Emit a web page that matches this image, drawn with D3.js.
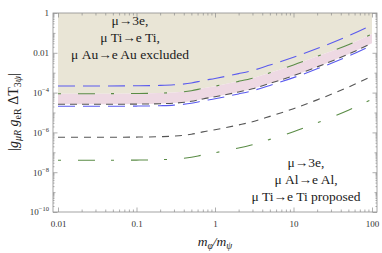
<!DOCTYPE html>
<html>
<head>
<meta charset="utf-8">
<script src="https://cdn.jsdelivr.net/npm/d3@7"></script>
<style>
  body { margin: 0; background: #fff; }
  svg text { font-family: "Liberation Serif", "DejaVu Serif", serif; }
</style>
</head>
<body>
<div id="chart"></div>
<script>
// sample points along m_phi/m_psi
const massRatio = [0.01, 0.03, 0.1, 0.2, 0.3, 0.5, 0.7, 1, 2, 3, 5, 10, 20, 50, 100];

// current limits (upper group)
const blueUpper  = [2.15e-4, 2.15e-4, 2.20e-4, 2.30e-4, 2.47e-4, 3.03e-4, 4.00e-4, 5.15e-4, 8.95e-4, 1.29e-3, 2.41e-3, 5.92e-3, 1.63e-2, 7.11e-2, 0.252];
const greenUpper = [8.81e-5, 8.81e-5, 9.02e-5, 9.44e-5, 1.01e-4, 1.245e-4, 1.64e-4, 2.11e-4, 3.67e-4, 5.31e-4, 9.89e-4, 2.43e-3, 6.68e-3, 2.54e-2, 8.81e-2];
const blackUpper = [2.58e-5, 2.58e-5, 2.64e-5, 2.77e-5, 2.96e-5, 3.65e-5, 4.81e-5, 6.19e-5, 1.08e-4, 1.56e-4, 2.90e-4, 7.11e-4, 1.96e-3, 8.55e-3, 3.03e-2];
const blueLower  = [2.05e-5, 2.05e-5, 2.10e-5, 2.20e-5, 2.35e-5, 2.90e-5, 3.82e-5, 4.92e-5, 8.58e-5, 1.24e-4, 2.30e-4, 5.65e-4, 1.56e-3, 6.79e-3, 2.41e-2];

// proposed sensitivities (lower group)
const blackProposed = [5.68e-7, 5.68e-7, 5.81e-7, 6.08e-7, 6.52e-7, 8.02e-7, 1.06e-6, 1.36e-6, 2.37e-6, 3.42e-6, 6.37e-6, 1.56e-5, 4.31e-5, 1.88e-4, 6.67e-4];
const greenProposed = [3.96e-8, 3.96e-8, 4.06e-8, 4.25e-8, 4.55e-8, 5.60e-8, 7.38e-8, 9.51e-8, 1.65e-7, 2.39e-7, 4.45e-7, 1.09e-6, 3.01e-6, 1.31e-5, 4.66e-5];

const xTickValues = [0.01, 0.1, 1, 10, 100];
const xTickLabels = ["0.01", "0.1", "1", "10", "100"];
const yTickValues = [1, 1e-2, 1e-4, 1e-6, 1e-8, 1e-10];
const yTickBase = ["1", "0.01", "10", "10", "10", "10"];
const yTickExp  = ["", "", "\u22124", "\u22126", "\u22128", "\u221210"];

const width = 382, height = 253;
const frame = { left: 53, right: 377, top: 13, bottom: 212 };

const svg = d3.select("#chart")
  .append("svg")
  .attr("width", width)
  .attr("height", height);

const x = d3.scaleLog().domain([0.01, 100]).range([58, 372]);
const y = d3.scaleLog().domain([1e-10, 1]).range([frame.bottom, frame.top]);

const rows = massRatio.map((m, i) => ({
  m,
  bu: blueUpper[i], gu: greenUpper[i], ku: blackUpper[i], bl: blueLower[i],
  kp: blackProposed[i], gp: greenProposed[i]
}));

// excluded region (beige) and band (pink)
svg.append("path")
  .datum(rows)
  .attr("fill", "#e9e5d6")
  .attr("d", d3.area().curve(d3.curveMonotoneX)
    .x(d => x(d.m)).y0(d => y(d.gu)).y1(y(1)));

svg.append("path")
  .datum(rows)
  .attr("fill", "#eed9e3")
  .attr("d", d3.area().curve(d3.curveMonotoneX)
    .x(d => x(d.m)).y0(d => y(d.ku)).y1(d => y(d.gu)));

const curves = [
  { key: "bu", color: "#5a5aee", dash: "17,8" },
  { key: "gu", color: "#5a8c46", dash: "3,17,17,16" },
  { key: "ku", color: "#555555", dash: "7,5" },
  { key: "bl", color: "#5a5aee", dash: "17,8" },
  { key: "kp", color: "#555555", dash: "7,6" },
  { key: "gp", color: "#5a8c46", dash: "3,17,17,16" }
];

svg.append("g")
  .selectAll("path")
  .data(curves)
  .join("path")
  .attr("fill", "none")
  .attr("stroke", d => d.color)
  .attr("stroke-width", 1.1)
  .attr("stroke-dasharray", d => d.dash)
  .attr("d", c => d3.line().curve(d3.curveMonotoneX)
    .x(d => x(d.m)).y(d => y(d[c.key]))(rows));

// ticks
const frameColor = "#8c8c8c";
const xMinor = x.ticks().filter(v => !xTickValues.some(t => Math.abs(t - v) / t < 1e-6));
const yMinor = [];
for (let e = -10; e < 0; e++) {
  for (let k = 1; k < 10; k++) {
    const v = k * Math.pow(10, e);
    if (!yTickValues.some(t => Math.abs(t - v) / t < 1e-6)) yMinor.push(v);
  }
}
const yOdd = yMinor.filter(v => Math.abs(Math.log10(v) - Math.round(Math.log10(v))) < 1e-9);
const ySmall = yMinor.filter(v => !yOdd.includes(v));

function styleAxis(g) {
  g.select(".domain").remove();
  g.selectAll("line").attr("stroke", frameColor).attr("stroke-width", 0.7);
  g.selectAll("text")
    .attr("fill", "#333")
    .style("font-size", "9px")
    .style("font-family", "'Liberation Serif', serif");
}

function xAxes(gen, yPos) {
  svg.append("g").attr("transform", `translate(0,${yPos})`)
    .call(gen(x).tickValues(xMinor).tickSize(-2.5).tickFormat(""))
    .call(styleAxis);
}
function yAxes(gen, xPos) {
  svg.append("g").attr("transform", `translate(${xPos},0)`)
    .call(gen(y).tickValues(ySmall).tickSize(-1.5).tickFormat(""))
    .call(styleAxis);
  svg.append("g").attr("transform", `translate(${xPos},0)`)
    .call(gen(y).tickValues(yOdd).tickSize(-2.5).tickFormat(""))
    .call(styleAxis);
}

xAxes(d3.axisBottom, frame.bottom);
xAxes(d3.axisTop, frame.top);
yAxes(d3.axisLeft, frame.left);
yAxes(d3.axisRight, frame.right);

svg.append("g").attr("transform", `translate(0,${frame.bottom})`)
  .call(d3.axisBottom(x).tickValues(xTickValues).tickSize(-4.5).tickPadding(9)
    .tickFormat((d, i) => xTickLabels[i]))
  .call(styleAxis);
svg.append("g").attr("transform", `translate(0,${frame.top})`)
  .call(d3.axisTop(x).tickValues(xTickValues).tickSize(-4.5).tickFormat(""))
  .call(styleAxis);
svg.append("g").attr("transform", `translate(${frame.right},0)`)
  .call(d3.axisRight(y).tickValues(yTickValues).tickSize(-4.5).tickFormat(""))
  .call(styleAxis);

const yAxisG = svg.append("g").attr("transform", `translate(${frame.left},0)`)
  .call(d3.axisLeft(y).tickValues(yTickValues).tickSize(-4.5).tickFormat(""))
  .call(styleAxis);

yAxisG.selectAll(".tick")
  .append("text")
  .attr("x", -4)
  .attr("dy", "0.32em")
  .attr("text-anchor", "end")
  .attr("fill", "#333")
  .style("font-size", "9px")
  .each(function (d, i) {
    const t = d3.select(this);
    t.append("tspan").text(yTickBase[i]);
    if (yTickExp[i]) {
      t.append("tspan").attr("dy", -4).style("font-size", "6.5px").text(yTickExp[i]);
    }
  });

// frame
svg.append("rect")
  .attr("x", frame.left).attr("y", frame.top)
  .attr("width", frame.right - frame.left)
  .attr("height", frame.bottom - frame.top)
  .attr("fill", "none")
  .attr("stroke", frameColor)
  .attr("stroke-width", 0.8);

// axis labels
const yLab = svg.append("text")
  .attr("transform", "translate(18,112) rotate(-90)")
  .attr("text-anchor", "middle")
  .attr("fill", "#222")
  .style("font-size", "14px");
yLab.append("tspan").text("|");
yLab.append("tspan").style("font-style", "italic").text("g");
yLab.append("tspan").attr("dy", 3).style("font-size", "10px").style("font-style", "italic").text("\u03bcR");
yLab.append("tspan").attr("dy", -3).text(" ");
yLab.append("tspan").style("font-style", "italic").text("g");
yLab.append("tspan").attr("dy", 3).style("font-size", "10px").text("eR");
yLab.append("tspan").attr("dy", -3).text(" \u0394T");
yLab.append("tspan").attr("dy", 3).style("font-size", "10px").text("3");
yLab.append("tspan").style("font-size", "10px").style("font-style", "italic").text("\u03c8");
yLab.append("tspan").attr("dy", -3).text("|");

const xLab = svg.append("text")
  .attr("x", 215).attr("y", 246)
  .attr("text-anchor", "middle")
  .attr("fill", "#222")
  .style("font-size", "13.5px")
  .style("font-style", "italic");
xLab.append("tspan").text("m");
xLab.append("tspan").attr("dy", 3).style("font-size", "9.5px").text("\u03c6");
xLab.append("tspan").attr("dy", -3).text("/m");
xLab.append("tspan").attr("dy", 3).style("font-size", "9.5px").text("\u03c8");

// annotations
const excludedLines = ["\u03bc\u21923e,", "\u03bc Ti\u2192e Ti,", "\u03bc Au\u2192e Au excluded"];
const proposedLines = ["\u03bc\u21923e,", "\u03bc Al\u2192e Al,", "\u03bc Ti\u2192e Ti proposed"];

function block(lines, cx, y0) {
  svg.append("g")
    .selectAll("text")
    .data(lines)
    .join("text")
    .attr("x", cx)
    .attr("y", (d, i) => y0 + i * 17)
    .attr("text-anchor", "middle")
    .attr("fill", "#1a1a1a")
    .style("font-size", "13.5px")
    .text(d => d);
}
block(excludedLines, 130, 25);
block(proposedLines, 306, 167);
</script>
</body>
</html>
